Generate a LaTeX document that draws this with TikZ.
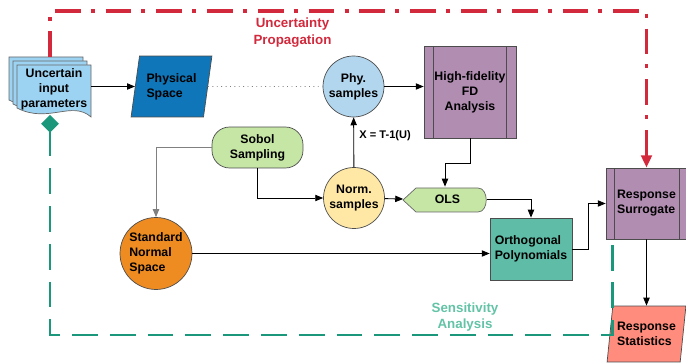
\documentclass[tikz,border=0pt]{standalone}
\usepackage{fontspec}
\setmainfont{Liberation Sans}
\usetikzlibrary{shapes.geometric,arrows.meta}

\definecolor{docblue}{HTML}{9DD3F2}
\definecolor{physblue}{HTML}{0E76B9}
\definecolor{phyblue}{HTML}{B2D6EE}
\definecolor{procpurple}{HTML}{B18DB2}
\definecolor{sobgreen}{HTML}{C6E6A6}
\definecolor{normyellow}{HTML}{FFE8A6}
\definecolor{stdorange}{HTML}{EE8C22}
\definecolor{orthteal}{HTML}{5EBCA7}
\definecolor{statsalmon}{HTML}{FF8C7C}
\definecolor{upred}{HTML}{D2293C}
\definecolor{sagreen}{HTML}{1B977C}
\definecolor{salabel}{HTML}{63C3A6}

\tikzset{
    process/.style={rectangle, path picture={
        \draw ([xshift=#1]path picture bounding box.north west) -- ([xshift=#1]path picture bounding box.south west);
        \draw ([xshift=-#1]path picture bounding box.north east) -- ([xshift=-#1]path picture bounding box.south east);}},
    slanted/.style={trapezium, trapezium left angle=#1, trapezium right angle=180-#1, trapezium stretches=true}
}

\begin{document}
\begin{tikzpicture}[x=0.02cm, y=-0.02cm, font=\fontsize{7}{8.5}\selectfont\bfseries]
        \useasboundingbox (0,0) rectangle (686,364);
        \foreach \d in {8,4,0} {
            \path[fill=docblue, draw=black!60, thin, shift={(-\d,-\d)}] (17,65) -- (91,65) -- (91,117) .. controls (72,100) and (48,124) .. (17,108) -- cycle;
        }
        \path[fill=sobgreen, draw=black!60, thin] (403,200) -- (416,188) -- (478,188) .. controls (489,188) and (489,212) .. (478,212) -- (416,212) -- cycle;
        \begin{scope}[every node/.style={draw=black!70, thin, inner sep=0, align=center}]
            \node [draw=none, minimum width=1.48cm, minimum height=0.9cm] (unc) at (54,89.5) {Uncertain\\input\\parameters};
            \node [slanted=76, fill=physblue, minimum width=1.62cm, minimum height=1.22cm, align=left] (phys) at (171.5,86.5) {Physical\\Space};
            \node [circle, fill=phyblue, minimum size=1.22cm] (phy) at (353.5,86.5) {Phy.\\samples};
            \node [process=0.19cm, fill=procpurple, minimum width=1.84cm, minimum height=1.84cm] (hifi) at (470,92) {High-fidelity\\FD\\Analysis};
            \node [rounded corners=10pt, fill=sobgreen, minimum width=1.82cm, minimum height=0.82cm] (sobol) at (257.5,147.5) {Sobol\\Sampling};
            \node [circle, fill=normyellow, minimum size=1.22cm] (norm) at (354,198) {Norm.\\samples};
            \node [draw=none, minimum width=1.66cm, minimum height=0.48cm] (ols) at (445,199) {\hspace{0.1cm}OLS};
            \node [circle, fill=stdorange, minimum size=1.44cm, align=left] (stdn) at (156,253.5) {Standard\\Normal\\Space};
            \node [fill=orthteal, minimum width=1.64cm, minimum height=1.24cm, align=left] (orth) at (531,249) {Orthogonal\\Polynomials};
            \node [process=0.16cm, fill=procpurple, minimum width=1.62cm, minimum height=1.42cm, align=left] (surr) at (646.5,203.5) {Response\\Surrogate};
            \node [slanted=78, fill=statsalmon, minimum width=1.58cm, minimum height=1.12cm, align=left] (stats) at (646.5,334) {Response\\Statistics};
        \end{scope}
        \begin{scope}[every node/.style={inner sep=0, align=center, font=\fontsize{7.6}{9.6}\selectfont\bfseries}]
            \node [text=upred] (uplabel) at (292.5,33) {Uncertainty\\Propagation};
            \node [text=salabel] (salabel) at (465,317) {Sensitivity\\Analysis};
        \end{scope}
        \coordinate (upstart) at (50,57);
        \coordinate (upcorner) at (646.5,11);
        \coordinate (sastart) at (50,115);
        \coordinate (sacorner) at (50,335);
        \coordinate (saend) at (612,239);
        \draw [upred, line width=1.9pt, dash pattern=on 14.7pt off 5.7pt on 2.3pt off 6.2pt, -{Triangle[length=7pt,width=6pt]}] (upstart) |- (upcorner) -- (surr.north);
        \draw [sagreen, line width=1.7pt, dash pattern=on 14.7pt off 6.8pt, {Diamond[length=10pt,width=10pt]}-] (sastart) |- (saend |- sacorner) -- (saend);
        \begin{scope}[every path/.style={line width=0.5pt, -{Triangle[length=4.5pt,width=3.6pt]}}, every edge/.append style={line width=0.5pt}]
            \path (unc.east |- phys.west) edge (phys.west);
            \path (phys.east) edge [-, dotted, gray] (phy.west);
            \path (phy) edge (phy -| hifi.west);
            \path (norm) edge node [right, pos=0.63, inner sep=3pt, font=\fontsize{6.3}{7.5}\selectfont\bfseries] {X = T-1(U)} (phy);
            \draw [gray] (sobol.west) -| (stdn.north);
            \draw (sobol.south) |- (norm.west);
            \path (norm) edge (ols.west);
            \draw (hifi.south) -- ++(0,25) -| (ols.north);
            \draw (ols.east) -| (orth.north);
            \path (stdn) edge (stdn -| orth.west);
            \draw (orth.east) -- ++(16,0) |- (surr.west);
            \path (surr) edge (stats);
        \end{scope}
    \end{tikzpicture}
\end{document}
